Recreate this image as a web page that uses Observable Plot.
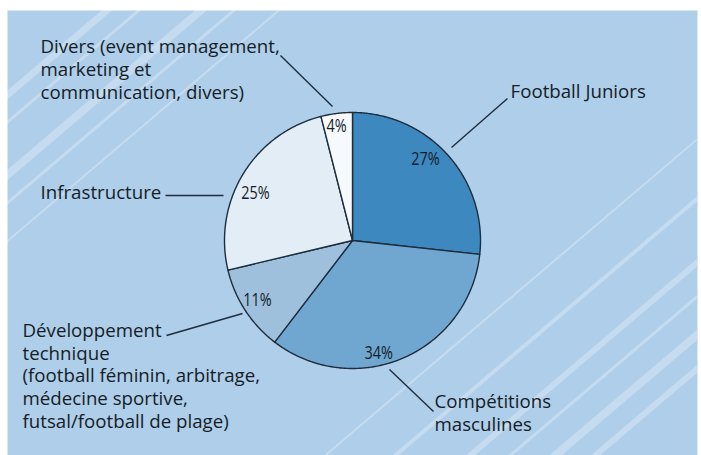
<!DOCTYPE html>
<html><head><meta charset="utf-8">
<script src="https://cdn.jsdelivr.net/npm/d3@7"></script>
<script src="https://cdn.jsdelivr.net/npm/@observablehq/plot@0.6"></script>
<style>
html,body{margin:0;padding:0;background:#fff;}
#chart svg{display:block;}
</style></head><body><div id="chart"></div>
<script>
// ---- data ----
const categories = ["Football Juniors", "Compétitions masculines", "Développement technique", "Infrastructure", "Divers"];
const values = [27, 34, 11, 25, 4];
const sliceColors = ["#3e88c0", "#70a7d1", "#9ec0dc", "#e3edf6", "#f7fafd"];
const labelTexts = [
  "Football Juniors",
  "Compétitions\nmasculines",
  "Développement\ntechnique\n(football féminin, arbitrage,\nmédecine sportive,\nfutsal/football de plage)",
  "Infrastructure",
  "Divers (event management,\nmarketing et\ncommunication, divers)"
];

// ---- layout (pixels) ----
const W = 701, H = 455;
const cx = 352, cy = 240, R = 128;
const labelX = [510, 434, 22, 40, 40];
const labelLastBaseline = [97, 430, 427, 198, 98];
const leaderFrom = [[507, 98], [433, 411], [166, 335], [165, 195], [280, 55]];
const leaderTo = [[451, 147], [389, 369], [242, 313], [223, 195], [332, 106]];
const pctAngleDeg = [42, 167, 238, 296, 352];
const pctRadius = [109, 116, 112, 108, 115];
const stripeC = [118, 150, 212, 245, 290, 860, 930, 1005, 1045, 1090, 1130];
const stripeW = [7, 3, 8, 3, 2, 2, 4, 6, 3, 8, 6];
const stripeSlope = 0.85;

// ---- build ----
const arcs = d3.pie().sort(null).value(d => d.value)(categories.map((c, i) => ({name: c, value: values[i], color: sliceColors[i]})));
const slicePts = [];
arcs.forEach(a => {
  const n = Math.max(4, Math.ceil((a.endAngle - a.startAngle) / 0.01));
  slicePts.push({name: a.data.name, color: a.data.color, x: cx, y: cy});
  for (let k = 0; k <= n; k++) {
    const t = a.startAngle + (a.endAngle - a.startAngle) * k / n;
    slicePts.push({name: a.data.name, color: a.data.color, x: cx + R * Math.sin(t), y: cy - R * Math.cos(t)});
  }
  slicePts.push({name: a.data.name, color: a.data.color, x: cx, y: cy});
});
const pctLabels = arcs.map((a, i) => {
  const t = pctAngleDeg[i] * Math.PI / 180;
  return {text: a.data.value + "%", x: cx + pctRadius[i] * Math.sin(t), y: cy - pctRadius[i] * Math.cos(t)};
});
const labels = categories.map((c, i) => ({text: labelTexts[i], x: labelX[i], y: labelLastBaseline[i]}));
const leaders = categories.map((c, i) => ({x1: leaderFrom[i][0], y1: leaderFrom[i][1], x2: leaderTo[i][0], y2: leaderTo[i][1]}));
// stripe lines crossing y=0 at x=c, descending to the left
const stripes = stripeC.map((c, i) => ({x1: c - 700, y1: 700 * stripeSlope, x2: c + 50, y2: -50 * stripeSlope, w: stripeW[i]}));

const ink = "#141d28";
const chart = Plot.plot({
  width: W, height: H,
  marginLeft: 7, marginRight: 4, marginTop: 10, marginBottom: 0,
  x: {domain: [7, 697], range: [7, 697], axis: null},
  y: {domain: [10, 455], range: [10, 455], axis: null},
  color: {type: "identity"},
  style: {background: "#fff", overflow: "visible"},
  marks: [
    Plot.frame({fill: "#afcee9", stroke: "none"}),
    Plot.link(stripes, {x1: "x1", y1: "y1", x2: "x2", y2: "y2", stroke: "#ffffff", strokeOpacity: 0.28, strokeWidth: "w", clip: true}),
    Plot.line(slicePts, {x: "x", y: "y", z: "name", fill: "color", stroke: "#1d2d3d", strokeWidth: 1.4, strokeLinejoin: "round", curve: "linear"}),
    Plot.link(leaders, {x1: "x1", y1: "y1", x2: "x2", y2: "y2", stroke: "#1d2d3d", strokeWidth: 1.4}),
    Plot.text(pctLabels, {x: "x", y: "y", text: "text", fill: ink, fontSize: 18, fontFamily: "'Open Sans', sans-serif", textAnchor: "middle", lineAnchor: "middle"}),
    Plot.text(labels, {x: "x", y: "y", text: "text", fill: ink, fontSize: 18.7, fontWeight: 500, fontFamily: "'Open Sans', sans-serif", textAnchor: "start", lineAnchor: "bottom", lineHeight: 1.21})
  ]
});
document.getElementById("chart").appendChild(chart);
// condense the percentage labels horizontally (narrow face in the original)
d3.select(chart).selectAll("text").filter(function() { return /%$/.test(this.textContent); }).each(function() {
  const len = this.getComputedTextLength();
  if (len > 0) {
    this.setAttribute("textLength", (len * 0.8).toFixed(1));
    this.setAttribute("lengthAdjust", "spacingAndGlyphs");
  }
});
</script></body></html>
